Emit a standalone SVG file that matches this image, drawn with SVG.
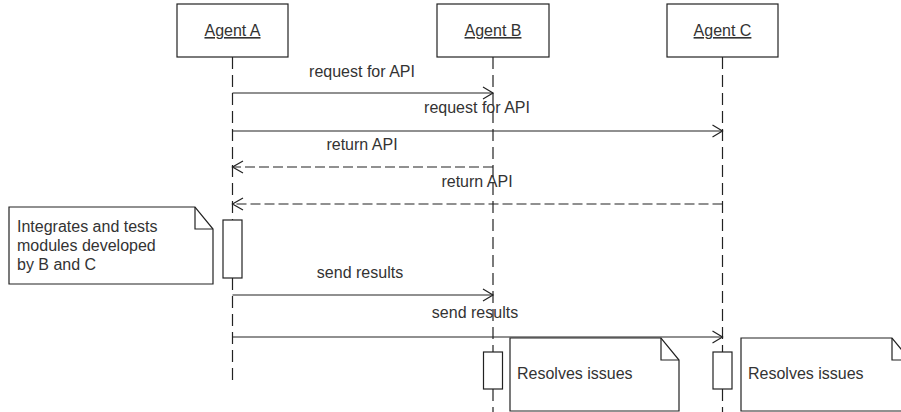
<svg xmlns="http://www.w3.org/2000/svg" width="901" height="412" viewBox="0 0 901 412">
<style>
  text { font-family: "Liberation Sans", Arial, sans-serif; font-size: 16px; fill: #333; }
  .box { fill: #fff; stroke: #222; stroke-width: 1.2; }
  .life { stroke: #222; stroke-width: 1.2; stroke-dasharray: 12 6; fill: none; }
  .msg { stroke: #222; stroke-width: 1.2; fill: none; }
  .ret { stroke: #222; stroke-width: 1.2; fill: none; stroke-dasharray: 10 4; }
  .head { stroke: #222; stroke-width: 1.2; fill: none; }
  .lbl { text-anchor: middle; }
  .name { text-anchor: middle; text-decoration: underline; }
</style>

<g id="agentA">
  <rect class="box" x="177" y="4" width="111" height="53"/>
  <text class="name" x="232.5" y="36">Agent A</text>
  <line class="life" x1="232.5" y1="57" x2="232.5" y2="220"/>
  <line class="life" x1="232.5" y1="278" x2="232.5" y2="384"/>
</g>
<g id="agentB">
  <rect class="box" x="437" y="4" width="112" height="53"/>
  <text class="name" x="493" y="36">Agent B</text>
  <line class="life" x1="493" y1="57" x2="493" y2="352"/>
  <line class="life" x1="493" y1="389" x2="493" y2="412"/>
</g>
<g id="agentC">
  <rect class="box" x="667" y="4" width="111" height="53"/>
  <text class="name" x="722.5" y="36">Agent C</text>
  <line class="life" x1="722.5" y1="57" x2="722.5" y2="352"/>
  <line class="life" x1="722.5" y1="389" x2="722.5" y2="412"/>
</g>

<g id="activationA"><rect class="box" x="223" y="220" width="19" height="58"/></g>
<g id="activationB"><rect class="box" x="483.5" y="352" width="19" height="37"/></g>
<g id="activationC"><rect class="box" x="713" y="352" width="19" height="37"/></g>

<g id="noteA">
  <path class="box" d="M9,207 H195 L213,229 V284 H9 Z"/>
  <path class="head" d="M195,207 V229 H213"/>
  <text x="17" y="232">Integrates and tests</text>
  <text x="17" y="251">modules developed</text>
  <text x="17" y="270">by B and C</text>
</g>
<g id="noteB">
  <path class="box" d="M510,338 H661 L679,360 V411 H510 Z"/>
  <path class="head" d="M661,338 V360 H679"/>
  <text x="517" y="379">Resolves issues</text>
</g>
<g id="noteC">
  <path class="box" d="M741,338 H892 L910,360 V411 H741 Z"/>
  <path class="head" d="M892,338 V360 H910"/>
  <text x="748" y="379">Resolves issues</text>
</g>

<g id="connectors">
  <line class="msg" x1="232.5" y1="93" x2="493" y2="93"/>
  <path class="head" d="M483,87 L493,93 L483,99"/>
  <text class="lbl" x="362" y="77">request for API</text>

  <line class="msg" x1="232.5" y1="131" x2="722.5" y2="131"/>
  <path class="head" d="M712.5,125 L722.5,131 L712.5,137"/>
  <text class="lbl" x="477" y="113">request for API</text>

  <line class="ret" x1="493" y1="167" x2="232.5" y2="167"/>
  <path class="head" d="M243,161 L232.5,167 L243,173"/>
  <text class="lbl" x="362" y="150">return API</text>

  <line class="ret" x1="722.5" y1="204" x2="232.5" y2="204"/>
  <path class="head" d="M243,198 L232.5,204 L243,210"/>
  <text class="lbl" x="477" y="187">return API</text>

  <line class="msg" x1="232.5" y1="295" x2="493" y2="295"/>
  <path class="head" d="M483,289 L493,295 L483,301"/>
  <text class="lbl" x="360" y="278">send results</text>

  <line class="msg" x1="232.5" y1="337" x2="722.5" y2="337"/>
  <path class="head" d="M712.5,331 L722.5,337 L712.5,343"/>
  <text class="lbl" x="475" y="318">send results</text>
</g>
</svg>
